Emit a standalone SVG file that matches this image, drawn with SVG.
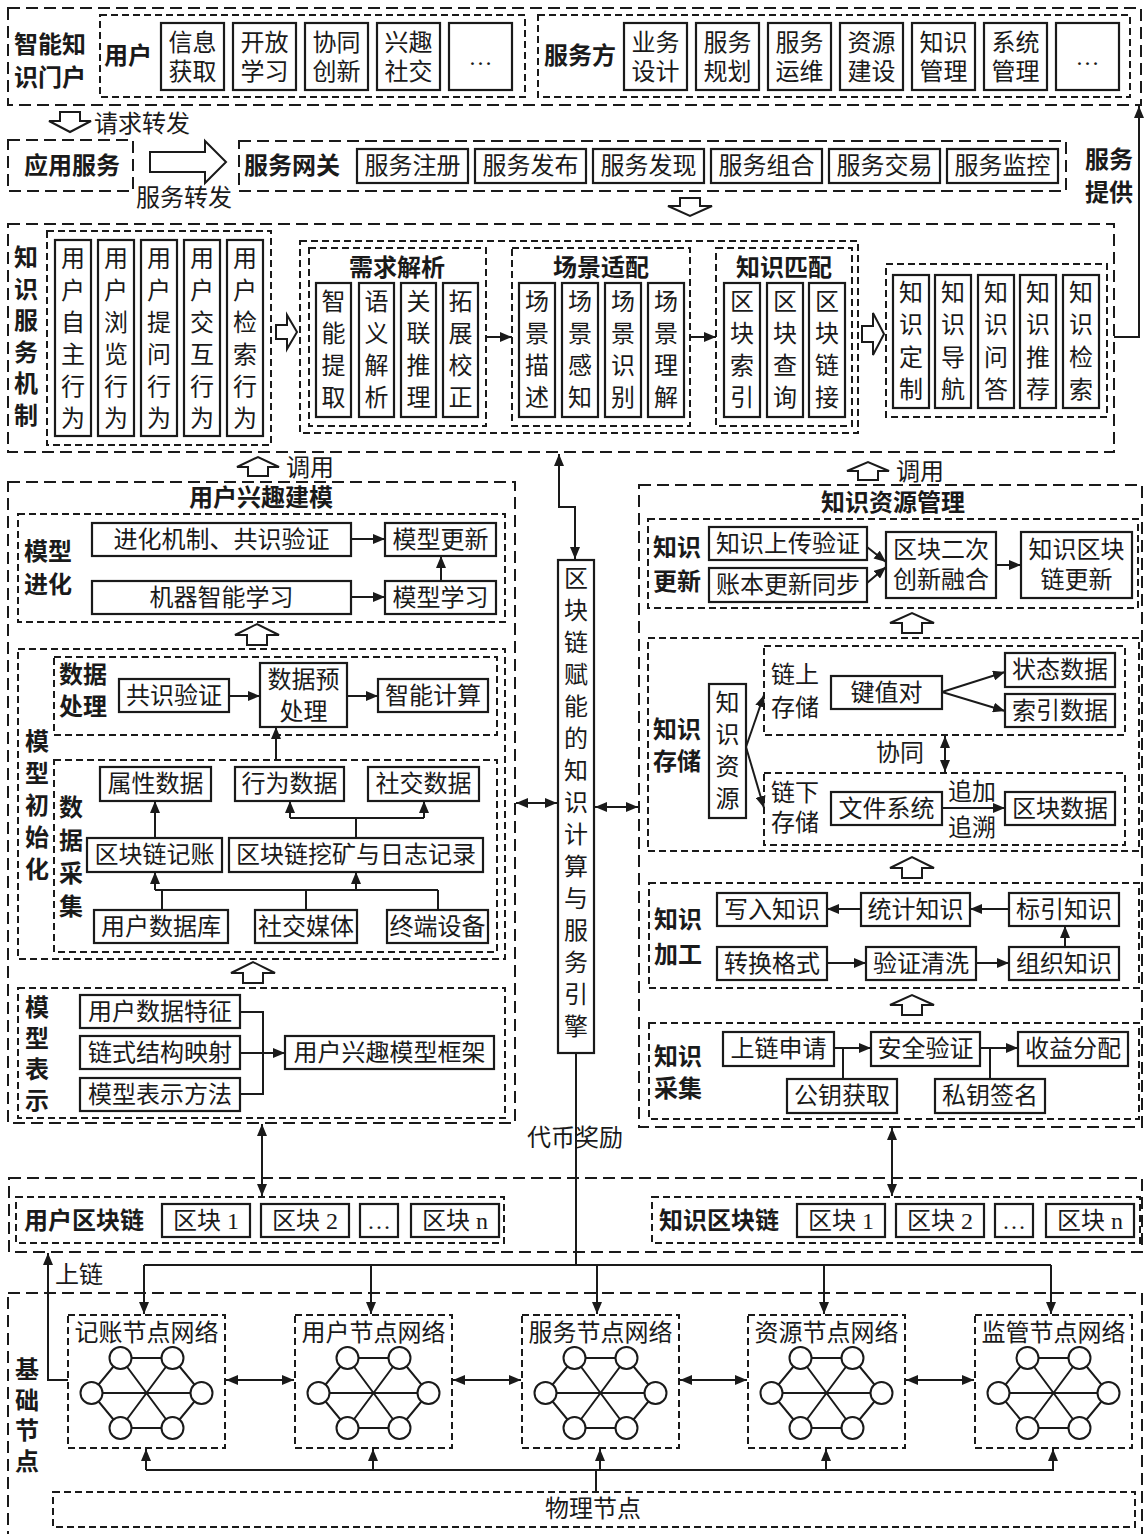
<svg xmlns="http://www.w3.org/2000/svg" width="1144" height="1534" viewBox="0 0 1144 1534">
<defs>
<style>
.b{fill:#fff;stroke:#1a1a1a;stroke-width:2.2}
.d1{fill:none;stroke:#1a1a1a;stroke-width:2;stroke-dasharray:12 6}
.d2{fill:none;stroke:#1a1a1a;stroke-width:2;stroke-dasharray:7 4}
.ln{fill:none;stroke:#1a1a1a;stroke-width:2}
.ar{marker-end:url(#ah)}
.da{marker-start:url(#ah);marker-end:url(#ah)}
.ha{fill:#fff;stroke:#1a1a1a;stroke-width:2}
.nd{fill:#fff;stroke:#1a1a1a;stroke-width:2}
text{font-family:"Liberation Serif","Noto Sans CJK SC",serif;font-size:24px;fill:#1a1a1a;text-anchor:middle;dominant-baseline:central}
.h{font-weight:bold}
</style>
<marker id="ah" viewBox="0 0 12 10" refX="12" refY="5" markerWidth="12" markerHeight="10" markerUnits="userSpaceOnUse" orient="auto-start-reverse"><path d="M0,0L12,5L0,10z" fill="#1a1a1a"/></marker>
<g id="net">
<path class="ln" d="M-26,-35H26M-26,35H26M-55,0H55M-26,-35L26,35M26,-35L-26,35M-26,-35L-55,0L-26,35M26,-35L55,0L26,35"/>
<circle class="nd" cx="-26" cy="-35" r="11"/><circle class="nd" cx="26" cy="-35" r="11"/>
<circle class="nd" cx="-55" cy="0" r="11"/><circle class="nd" cx="55" cy="0" r="11"/>
<circle class="nd" cx="-26" cy="35" r="11"/><circle class="nd" cx="26" cy="35" r="11"/>
</g>
</defs>
<rect x="0" y="0" width="1144" height="1534" fill="#fff"/>

<!-- Portal -->
<g id="portal"><rect class="d1" x="8" y="8" width="1133" height="97"/><text class="h" x="50" y="45">智能知</text><text class="h" x="50" y="78">识门户</text></g>
<g id="user-side"><rect class="d2" x="100" y="15" width="425" height="82"/><text class="h" x="128" y="56">用户</text></g>
<g id="u1"><rect class="b" x="161" y="23" width="63" height="67"/><text x="192.5" y="43">信息</text><text x="192.5" y="72">获取</text></g>
<g id="u2"><rect class="b" x="233" y="23" width="63" height="67"/><text x="264.5" y="43">开放</text><text x="264.5" y="72">学习</text></g>
<g id="u3"><rect class="b" x="305" y="23" width="63" height="67"/><text x="336.5" y="43">协同</text><text x="336.5" y="72">创新</text></g>
<g id="u4"><rect class="b" x="377" y="23" width="63" height="67"/><text x="408.5" y="43">兴趣</text><text x="408.5" y="72">社交</text></g>
<g id="u5"><rect class="b" x="449" y="23" width="63" height="67"/><text x="480.5" y="57">…</text></g>
<g id="server-side"><rect class="d2" x="538" y="15" width="592" height="82"/><text class="h" x="580" y="56">服务方</text></g>
<g id="s1"><rect class="b" x="624" y="23" width="63" height="67"/><text x="655.5" y="43">业务</text><text x="655.5" y="72">设计</text></g>
<g id="s2"><rect class="b" x="696" y="23" width="63" height="67"/><text x="727.5" y="43">服务</text><text x="727.5" y="72">规划</text></g>
<g id="s3"><rect class="b" x="768" y="23" width="63" height="67"/><text x="799.5" y="43">服务</text><text x="799.5" y="72">运维</text></g>
<g id="s4"><rect class="b" x="840" y="23" width="63" height="67"/><text x="871.5" y="43">资源</text><text x="871.5" y="72">建设</text></g>
<g id="s5"><rect class="b" x="912" y="23" width="63" height="67"/><text x="943.5" y="43">知识</text><text x="943.5" y="72">管理</text></g>
<g id="s6"><rect class="b" x="984" y="23" width="63" height="67"/><text x="1015.5" y="43">系统</text><text x="1015.5" y="72">管理</text></g>
<g id="s7"><rect class="b" x="1056" y="23" width="63" height="67"/><text x="1087.5" y="57">…</text></g>

<!-- Row 2 -->
<g id="app"><rect class="d1" x="8" y="140" width="125" height="51"/><text class="h" x="72" y="166">应用服务</text></g>
<g id="gateway"><rect class="d1" x="239" y="141" width="827" height="50"/><text class="h" x="292" y="166">服务网关</text></g>
<g id="g1"><rect class="b" x="357" y="149" width="111" height="34"/><text x="412.5" y="166">服务注册</text></g>
<g id="g2"><rect class="b" x="475" y="149" width="111" height="34"/><text x="530.5" y="166">服务发布</text></g>
<g id="g3"><rect class="b" x="593" y="149" width="111" height="34"/><text x="648.5" y="166">服务发现</text></g>
<g id="g4"><rect class="b" x="711" y="149" width="111" height="34"/><text x="766.5" y="166">服务组合</text></g>
<g id="g5"><rect class="b" x="829" y="149" width="111" height="34"/><text x="884.5" y="166">服务交易</text></g>
<g id="g6"><rect class="b" x="947" y="149" width="111" height="34"/><text x="1002.5" y="166">服务监控</text></g>

<!-- Knowledge service mechanism -->
<g id="ksm"><rect class="d1" x="8" y="224" width="1106" height="228"/>
<text class="h" x="26"><tspan x="26" y="258">知</tspan><tspan x="26" y="290">识</tspan><tspan x="26" y="321">服</tspan><tspan x="26" y="353">务</tspan><tspan x="26" y="384">机</tspan><tspan x="26" y="416">制</tspan></text></g>
<g id="behav"><rect class="d2" x="47" y="231" width="224" height="214"/></g>
<g id="b1"><rect class="b" x="55" y="240" width="36" height="196"/><text><tspan x="73" y="259">用</tspan><tspan x="73" y="291">户</tspan><tspan x="73" y="323">自</tspan><tspan x="73" y="355">主</tspan><tspan x="73" y="387">行</tspan><tspan x="73" y="419">为</tspan></text></g>
<g id="b2"><rect class="b" x="98" y="240" width="36" height="196"/><text><tspan x="116" y="259">用</tspan><tspan x="116" y="291">户</tspan><tspan x="116" y="323">浏</tspan><tspan x="116" y="355">览</tspan><tspan x="116" y="387">行</tspan><tspan x="116" y="419">为</tspan></text></g>
<g id="b3"><rect class="b" x="141" y="240" width="36" height="196"/><text><tspan x="159" y="259">用</tspan><tspan x="159" y="291">户</tspan><tspan x="159" y="323">提</tspan><tspan x="159" y="355">问</tspan><tspan x="159" y="387">行</tspan><tspan x="159" y="419">为</tspan></text></g>
<g id="b4"><rect class="b" x="184" y="240" width="36" height="196"/><text><tspan x="202" y="259">用</tspan><tspan x="202" y="291">户</tspan><tspan x="202" y="323">交</tspan><tspan x="202" y="355">互</tspan><tspan x="202" y="387">行</tspan><tspan x="202" y="419">为</tspan></text></g>
<g id="b5"><rect class="b" x="227" y="240" width="36" height="196"/><text><tspan x="245" y="259">用</tspan><tspan x="245" y="291">户</tspan><tspan x="245" y="323">检</tspan><tspan x="245" y="355">索</tspan><tspan x="245" y="387">行</tspan><tspan x="245" y="419">为</tspan></text></g>
<g id="analysis"><rect class="d2" x="300" y="241" width="558" height="192"/></g>
<g id="req"><rect class="d2" x="309" y="248" width="177" height="178"/><text class="h" x="397" y="268">需求解析</text></g>
<g id="r1"><rect class="b" x="316" y="283" width="35" height="134"/><text><tspan x="333.5" y="302">智</tspan><tspan x="333.5" y="334">能</tspan><tspan x="333.5" y="366">提</tspan><tspan x="333.5" y="398">取</tspan></text></g>
<g id="r2"><rect class="b" x="359" y="283" width="35" height="134"/><text><tspan x="376.5" y="302">语</tspan><tspan x="376.5" y="334">义</tspan><tspan x="376.5" y="366">解</tspan><tspan x="376.5" y="398">析</tspan></text></g>
<g id="r3"><rect class="b" x="401" y="283" width="35" height="134"/><text><tspan x="418.5" y="302">关</tspan><tspan x="418.5" y="334">联</tspan><tspan x="418.5" y="366">推</tspan><tspan x="418.5" y="398">理</tspan></text></g>
<g id="r4"><rect class="b" x="443" y="283" width="35" height="134"/><text><tspan x="460.5" y="302">拓</tspan><tspan x="460.5" y="334">展</tspan><tspan x="460.5" y="366">校</tspan><tspan x="460.5" y="398">正</tspan></text></g>
<g id="scene"><rect class="d2" x="512" y="248" width="178" height="178"/><text class="h" x="601" y="268">场景适配</text></g>
<g id="c1"><rect class="b" x="519" y="283" width="36" height="134"/><text><tspan x="537" y="302">场</tspan><tspan x="537" y="334">景</tspan><tspan x="537" y="366">描</tspan><tspan x="537" y="398">述</tspan></text></g>
<g id="c2"><rect class="b" x="562" y="283" width="36" height="134"/><text><tspan x="580" y="302">场</tspan><tspan x="580" y="334">景</tspan><tspan x="580" y="366">感</tspan><tspan x="580" y="398">知</tspan></text></g>
<g id="c3"><rect class="b" x="605" y="283" width="36" height="134"/><text><tspan x="623" y="302">场</tspan><tspan x="623" y="334">景</tspan><tspan x="623" y="366">识</tspan><tspan x="623" y="398">别</tspan></text></g>
<g id="c4"><rect class="b" x="648" y="283" width="36" height="134"/><text><tspan x="666" y="302">场</tspan><tspan x="666" y="334">景</tspan><tspan x="666" y="366">理</tspan><tspan x="666" y="398">解</tspan></text></g>
<g id="match"><rect class="d2" x="716" y="248" width="136" height="178"/><text class="h" x="784" y="268">知识匹配</text></g>
<g id="m1"><rect class="b" x="724" y="283" width="36" height="134"/><text><tspan x="742" y="302">区</tspan><tspan x="742" y="334">块</tspan><tspan x="742" y="366">索</tspan><tspan x="742" y="398">引</tspan></text></g>
<g id="m2"><rect class="b" x="767" y="283" width="36" height="134"/><text><tspan x="785" y="302">区</tspan><tspan x="785" y="334">块</tspan><tspan x="785" y="366">查</tspan><tspan x="785" y="398">询</tspan></text></g>
<g id="m3"><rect class="b" x="809" y="283" width="36" height="134"/><text><tspan x="827" y="302">区</tspan><tspan x="827" y="334">块</tspan><tspan x="827" y="366">链</tspan><tspan x="827" y="398">接</tspan></text></g>
<g id="ksvc"><rect class="d2" x="886" y="264" width="221" height="153"/></g>
<g id="k1"><rect class="b" x="893" y="275" width="36" height="133"/><text><tspan x="911" y="293">知</tspan><tspan x="911" y="325">识</tspan><tspan x="911" y="358">定</tspan><tspan x="911" y="390">制</tspan></text></g>
<g id="k2"><rect class="b" x="935" y="275" width="36" height="133"/><text><tspan x="953" y="293">知</tspan><tspan x="953" y="325">识</tspan><tspan x="953" y="358">导</tspan><tspan x="953" y="390">航</tspan></text></g>
<g id="k3"><rect class="b" x="978" y="275" width="36" height="133"/><text><tspan x="996" y="293">知</tspan><tspan x="996" y="325">识</tspan><tspan x="996" y="358">问</tspan><tspan x="996" y="390">答</tspan></text></g>
<g id="k4"><rect class="b" x="1020" y="275" width="36" height="133"/><text><tspan x="1038" y="293">知</tspan><tspan x="1038" y="325">识</tspan><tspan x="1038" y="358">推</tspan><tspan x="1038" y="390">荐</tspan></text></g>
<g id="k5"><rect class="b" x="1063" y="275" width="36" height="133"/><text><tspan x="1081" y="293">知</tspan><tspan x="1081" y="325">识</tspan><tspan x="1081" y="358">检</tspan><tspan x="1081" y="390">索</tspan></text></g>

<!-- Engine -->
<g id="engine"><rect class="b" x="558" y="560" width="36" height="493"/>
<text><tspan x="576" y="579">区</tspan><tspan x="576" y="611">块</tspan><tspan x="576" y="643">链</tspan><tspan x="576" y="675">赋</tspan><tspan x="576" y="707">能</tspan><tspan x="576" y="739">的</tspan><tspan x="576" y="771">知</tspan><tspan x="576" y="803">识</tspan><tspan x="576" y="835">计</tspan><tspan x="576" y="867">算</tspan><tspan x="576" y="899">与</tspan><tspan x="576" y="931">服</tspan><tspan x="576" y="963">务</tspan><tspan x="576" y="995">引</tspan><tspan x="576" y="1027">擎</tspan></text></g>

<!-- User interest modeling -->
<g id="uim"><rect class="d1" x="8" y="482" width="507" height="641"/><text class="h" x="261" y="498">用户兴趣建模</text></g>
<g id="evo"><rect class="d2" x="18" y="514" width="487" height="108"/><text class="h" x="48" y="552">模型</text><text class="h" x="48" y="585">进化</text></g>
<g id="e1"><rect class="b" x="92" y="523" width="259" height="33"/><text x="221.5" y="539.5">进化机制、共识验证</text></g>
<g id="e2"><rect class="b" x="385" y="523" width="111" height="33"/><text x="440.5" y="539.5">模型更新</text></g>
<g id="e3"><rect class="b" x="92" y="581" width="259" height="33"/><text x="221.5" y="597.5">机器智能学习</text></g>
<g id="e4"><rect class="b" x="385" y="581" width="111" height="33"/><text x="440.5" y="597.5">模型学习</text></g>
<g id="init"><rect class="d2" x="18" y="649" width="487" height="310"/><text class="h"><tspan x="37" y="742">模</tspan><tspan x="37" y="774">型</tspan><tspan x="37" y="806">初</tspan><tspan x="37" y="838">始</tspan><tspan x="37" y="870">化</tspan></text></g>
<g id="proc"><rect class="d2" x="54" y="657" width="443" height="78"/><text class="h" x="83" y="675">数据</text><text class="h" x="83" y="707">处理</text></g>
<g id="p1"><rect class="b" x="119" y="679" width="110" height="33"/><text x="174" y="695.5">共识验证</text></g>
<g id="p2"><rect class="b" x="260" y="663" width="87" height="64"/><text x="303.5" y="680">数据预</text><text x="303.5" y="712">处理</text></g>
<g id="p3"><rect class="b" x="378" y="679" width="110" height="33"/><text x="433" y="695.5">智能计算</text></g>
<g id="coll"><rect class="d2" x="54" y="760" width="443" height="192"/><text class="h"><tspan x="71" y="808">数</tspan><tspan x="71" y="841">据</tspan><tspan x="71" y="874">采</tspan><tspan x="71" y="907">集</tspan></text></g>
<g id="a1"><rect class="b" x="100" y="767" width="111" height="34"/><text x="155.5" y="784">属性数据</text></g>
<g id="a2"><rect class="b" x="235" y="767" width="109" height="34"/><text x="289.5" y="784">行为数据</text></g>
<g id="a3"><rect class="b" x="368" y="767" width="111" height="34"/><text x="423.5" y="784">社交数据</text></g>
<g id="a4"><rect class="b" x="87" y="838" width="135" height="34"/><text x="154.5" y="855">区块链记账</text></g>
<g id="a5"><rect class="b" x="229" y="838" width="254" height="34"/><text x="356" y="855">区块链挖矿与日志记录</text></g>
<g id="a6"><rect class="b" x="94" y="910" width="134" height="33"/><text x="161" y="926.5">用户数据库</text></g>
<g id="a7"><rect class="b" x="255" y="910" width="102" height="33"/><text x="306" y="926.5">社交媒体</text></g>
<g id="a8"><rect class="b" x="387" y="910" width="101" height="33"/><text x="437.5" y="926.5">终端设备</text></g>
<g id="repr"><rect class="d2" x="18" y="988" width="487" height="130"/><text class="h"><tspan x="37" y="1008">模</tspan><tspan x="37" y="1039">型</tspan><tspan x="37" y="1070">表</tspan><tspan x="37" y="1101">示</tspan></text></g>
<g id="f1"><rect class="b" x="80" y="995" width="160" height="33"/><text x="160" y="1011.5">用户数据特征</text></g>
<g id="f2"><rect class="b" x="80" y="1036" width="160" height="33"/><text x="160" y="1052.5">链式结构映射</text></g>
<g id="f3"><rect class="b" x="80" y="1078" width="160" height="33"/><text x="160" y="1094.5">模型表示方法</text></g>
<g id="f4"><rect class="b" x="285" y="1036" width="209" height="33"/><text x="389.5" y="1052.5">用户兴趣模型框架</text></g>

<!-- Knowledge resource management -->
<g id="krm"><rect class="d1" x="639" y="485" width="503" height="642"/><text class="h" x="893" y="503">知识资源管理</text></g>
<g id="kupd"><rect class="d2" x="648" y="519" width="490" height="89"/><text class="h" x="677" y="548">知识</text><text class="h" x="677" y="582">更新</text></g>
<g id="q1"><rect class="b" x="709" y="527" width="158" height="33"/><text x="788" y="543.5">知识上传验证</text></g>
<g id="q2"><rect class="b" x="709" y="568" width="158" height="34"/><text x="788" y="585">账本更新同步</text></g>
<g id="q3"><rect class="b" x="886" y="532" width="110" height="66"/><text x="941" y="550">区块二次</text><text x="941" y="580">创新融合</text></g>
<g id="q4"><rect class="b" x="1021" y="532" width="111" height="66"/><text x="1076.5" y="550">知识区块</text><text x="1076.5" y="580">链更新</text></g>
<g id="kstore"><rect class="d2" x="648" y="638" width="491" height="213"/><text class="h" x="677" y="730">知识</text><text class="h" x="677" y="762">存储</text></g>
<g id="kres"><rect class="b" x="709" y="684" width="37" height="134"/><text><tspan x="727.5" y="703">知</tspan><tspan x="727.5" y="735">识</tspan><tspan x="727.5" y="767">资</tspan><tspan x="727.5" y="799">源</tspan></text></g>
<g id="onchain"><rect class="d2" x="764" y="646" width="361" height="89"/><text x="795" y="675">链上</text><text x="795" y="708">存储</text></g>
<g id="kv"><rect class="b" x="831" y="676" width="111" height="33"/><text x="886.5" y="692.5">键值对</text></g>
<g id="st"><rect class="b" x="1005" y="653" width="110" height="34"/><text x="1060" y="670">状态数据</text></g>
<g id="ix"><rect class="b" x="1005" y="694" width="110" height="33"/><text x="1060" y="710.5">索引数据</text></g>
<g id="offchain"><rect class="d2" x="764" y="773" width="361" height="72"/><text x="795" y="793">链下</text><text x="795" y="823">存储</text></g>
<g id="fs"><rect class="b" x="831" y="792" width="111" height="33"/><text x="886.5" y="808.5">文件系统</text></g>
<g id="bd"><rect class="b" x="1005" y="792" width="110" height="33"/><text x="1060" y="808.5">区块数据</text></g>
<g id="kproc"><rect class="d2" x="649" y="883" width="490" height="105"/><text class="h" x="678" y="920">知识</text><text class="h" x="678" y="955">加工</text></g>
<g id="w1"><rect class="b" x="717" y="893" width="110" height="33"/><text x="772" y="909.5">写入知识</text></g>
<g id="w2"><rect class="b" x="861" y="893" width="109" height="33"/><text x="915.5" y="909.5">统计知识</text></g>
<g id="w3"><rect class="b" x="1009" y="893" width="110" height="33"/><text x="1064" y="909.5">标引知识</text></g>
<g id="w4"><rect class="b" x="717" y="947" width="110" height="33"/><text x="772" y="963.5">转换格式</text></g>
<g id="w5"><rect class="b" x="866" y="947" width="110" height="33"/><text x="921" y="963.5">验证清洗</text></g>
<g id="w6"><rect class="b" x="1009" y="947" width="110" height="33"/><text x="1064" y="963.5">组织知识</text></g>
<g id="kcol"><rect class="d2" x="649" y="1023" width="490" height="96"/><text class="h" x="678" y="1057">知识</text><text class="h" x="678" y="1089">采集</text></g>
<g id="x1"><rect class="b" x="723" y="1032" width="111" height="34"/><text x="778.5" y="1049">上链申请</text></g>
<g id="x2"><rect class="b" x="871" y="1032" width="109" height="34"/><text x="925.5" y="1049">安全验证</text></g>
<g id="x3"><rect class="b" x="1018" y="1032" width="110" height="34"/><text x="1073" y="1049">收益分配</text></g>
<g id="x4"><rect class="b" x="787" y="1079" width="110" height="34"/><text x="842" y="1096">公钥获取</text></g>
<g id="x5"><rect class="b" x="935" y="1079" width="110" height="34"/><text x="990" y="1096">私钥签名</text></g>

<!-- Blockchains -->
<g id="chains"><rect class="d1" x="9" y="1178" width="1133" height="74"/></g>
<g id="uchain"><rect class="d2" x="16" y="1197" width="488" height="46"/><text class="h" x="84" y="1221">用户区块链</text></g>
<g id="ub1"><rect class="b" x="162" y="1204" width="88" height="33"/><text x="206" y="1220.5">区块 1</text></g>
<g id="ub2"><rect class="b" x="261" y="1204" width="88" height="33"/><text x="305" y="1220.5">区块 2</text></g>
<g id="ub3"><rect class="b" x="360" y="1204" width="38" height="33"/><text x="379" y="1220.5">…</text></g>
<g id="ub4"><rect class="b" x="411" y="1204" width="88" height="33"/><text x="455" y="1220.5">区块 n</text></g>
<g id="kchain"><rect class="d2" x="652" y="1197" width="488" height="46"/><text class="h" x="719" y="1221">知识区块链</text></g>
<g id="kb1"><rect class="b" x="797" y="1204" width="88" height="33"/><text x="841" y="1220.5">区块 1</text></g>
<g id="kb2"><rect class="b" x="896" y="1204" width="88" height="33"/><text x="940" y="1220.5">区块 2</text></g>
<g id="kb3"><rect class="b" x="995" y="1204" width="38" height="33"/><text x="1014" y="1220.5">…</text></g>
<g id="kb4"><rect class="b" x="1046" y="1204" width="88" height="33"/><text x="1090" y="1220.5">区块 n</text></g>

<!-- Foundation nodes -->
<g id="base"><rect class="d1" x="8" y="1293" width="1134" height="260"/><text class="h"><tspan x="27" y="1370">基</tspan><tspan x="27" y="1401">础</tspan><tspan x="27" y="1431">节</tspan><tspan x="27" y="1462">点</tspan></text></g>
<g id="n1"><rect class="d2" x="68" y="1315" width="157" height="133"/><text x="146.5" y="1333">记账节点网络</text><use href="#net" x="146.5" y="1393"/></g>
<g id="n2"><rect class="d2" x="295" y="1315" width="157" height="133"/><text x="373.5" y="1333">用户节点网络</text><use href="#net" x="373.5" y="1393"/></g>
<g id="n3"><rect class="d2" x="522" y="1315" width="157" height="133"/><text x="600.5" y="1333">服务节点网络</text><use href="#net" x="600.5" y="1393"/></g>
<g id="n4"><rect class="d2" x="748" y="1315" width="157" height="133"/><text x="826.5" y="1333">资源节点网络</text><use href="#net" x="826.5" y="1393"/></g>
<g id="n5"><rect class="d2" x="975" y="1315" width="157" height="133"/><text x="1053.5" y="1333">监管节点网络</text><use href="#net" x="1053.5" y="1393"/></g>
<g id="phys"><rect class="d2" x="53" y="1492" width="1082" height="35"/><text x="593" y="1509">物理节点</text></g>

<!-- Connectors -->
<g id="connectors">
<path class="ha" d="M60,112H80V121H91L70,132L49,121H60Z"/>
<text x="142" y="124">请求转发</text>
<path class="ha" d="M150,152H205V141L226,162L205,183V172H150Z"/>
<text x="184" y="198">服务转发</text>
<path class="ha" d="M680,198H700V206H712L690,216L668,206H680Z"/>
<polyline class="ln ar" points="1114,337 1139,337 1139,106"/>
<text class="h" x="1109" y="160">服务</text><text class="h" x="1109" y="193">提供</text>
<path class="ha" d="M276,325H287V315L297,332L287,349V339H276Z"/>
<line class="ln ar" x1="486" y1="337" x2="512" y2="337"/>
<line class="ln ar" x1="690" y1="337" x2="716" y2="337"/>
<path class="ha" d="M862,326H873V313L884,334L873,355V342H862Z"/>
<path class="ha" d="M248,476V467H237L258,457L279,467H268V476Z"/>
<text x="310" y="468">调用</text>
<path class="ha" d="M858,480V471H847L868,462L889,471H878V480Z"/>
<text x="920" y="472">调用</text>
<polyline class="ln da" points="559,454 559,507 575,507 575,559"/>
<line class="ln ar" x1="351" y1="539" x2="385" y2="539"/>
<line class="ln ar" x1="351" y1="597" x2="385" y2="597"/>
<line class="ln ar" x1="441" y1="581" x2="441" y2="556"/>
<path class="ha" d="M247,645V635H235L257,624L279,635H267V645Z"/>
<line class="ln ar" x1="229" y1="696" x2="260" y2="696"/>
<line class="ln ar" x1="347" y1="696" x2="378" y2="696"/>
<line class="ln ar" x1="276" y1="760" x2="276" y2="727"/>
<line class="ln ar" x1="155" y1="838" x2="155" y2="801"/>
<path class="ln" d="M356,838V818M290,818H424"/>
<line class="ln ar" x1="290" y1="818" x2="290" y2="801"/>
<line class="ln ar" x1="424" y1="818" x2="424" y2="801"/>
<path class="ln" d="M155,890H438M162,910V890M306,910V890M438,910V890"/>
<line class="ln ar" x1="155" y1="890" x2="155" y2="872"/>
<line class="ln ar" x1="356" y1="890" x2="356" y2="872"/>
<path class="ha" d="M243,983V973H231L253,962L275,973H263V983Z"/>
<polyline class="ln" points="240,1012 263,1012 263,1094 240,1094"/>
<line class="ln ar" x1="240" y1="1053" x2="285" y2="1053"/>
<line class="ln da" x1="516" y1="803" x2="557" y2="803"/>
<line class="ln da" x1="595" y1="807" x2="638" y2="807"/>
<line class="ln ar" x1="867" y1="547" x2="886" y2="562"/>
<line class="ln ar" x1="867" y1="583" x2="886" y2="567"/>
<line class="ln ar" x1="996" y1="565" x2="1021" y2="565"/>
<path class="ha" d="M902,633V623H890L912,613L934,623H922V633Z"/>
<line class="ln ar" x1="746" y1="747" x2="764" y2="695"/>
<line class="ln ar" x1="746" y1="747" x2="764" y2="808"/>
<line class="ln ar" x1="942" y1="692" x2="1005" y2="672"/>
<line class="ln ar" x1="942" y1="692" x2="1005" y2="711"/>
<text x="900" y="753">协同</text>
<line class="ln da" x1="945" y1="736" x2="945" y2="772"/>
<line class="ln ar" x1="942" y1="808" x2="1005" y2="808"/>
<text x="972" y="792">追加</text>
<text x="972" y="828">追溯</text>
<path class="ha" d="M902,878V868H890L912,857L934,868H922V878Z"/>
<line class="ln ar" x1="861" y1="909" x2="827" y2="909"/>
<line class="ln ar" x1="1009" y1="909" x2="970" y2="909"/>
<line class="ln ar" x1="827" y1="963" x2="866" y2="963"/>
<line class="ln ar" x1="976" y1="963" x2="1009" y2="963"/>
<line class="ln ar" x1="1065" y1="947" x2="1065" y2="926"/>
<path class="ha" d="M902,1015V1005H890L912,995L934,1005H922V1015Z"/>
<line class="ln ar" x1="834" y1="1048" x2="871" y2="1048"/>
<line class="ln ar" x1="980" y1="1048" x2="1018" y2="1048"/>
<path class="ln" d="M843,1048V1079M990,1048V1079"/>
<line class="ln da" x1="262" y1="1124" x2="262" y2="1196"/>
<line class="ln da" x1="892" y1="1128" x2="892" y2="1196"/>
<line class="ln" x1="576" y1="1053" x2="576" y2="1265"/>
<text x="575" y="1138">代币奖励</text>
<line class="ln" x1="144" y1="1265" x2="1051" y2="1265"/>
<line class="ln ar" x1="144" y1="1265" x2="144" y2="1314"/>
<line class="ln ar" x1="371" y1="1265" x2="371" y2="1314"/>
<line class="ln ar" x1="597" y1="1265" x2="597" y2="1314"/>
<line class="ln ar" x1="824" y1="1265" x2="824" y2="1314"/>
<line class="ln ar" x1="1051" y1="1265" x2="1051" y2="1314"/>
<polyline class="ln ar" points="68,1380 48,1380 48,1253"/>
<text x="79" y="1275">上链</text>
<line class="ln da" x1="226" y1="1380" x2="294" y2="1380"/>
<line class="ln da" x1="453" y1="1380" x2="521" y2="1380"/>
<line class="ln da" x1="680" y1="1380" x2="747" y2="1380"/>
<line class="ln da" x1="906" y1="1380" x2="974" y2="1380"/>
<line class="ln" x1="146" y1="1470" x2="1054" y2="1470"/>
<line class="ln" x1="596" y1="1492" x2="596" y2="1470"/>
<line class="ln ar" x1="146" y1="1470" x2="146" y2="1449"/>
<line class="ln ar" x1="373" y1="1470" x2="373" y2="1449"/>
<line class="ln ar" x1="600" y1="1470" x2="600" y2="1449"/>
<line class="ln ar" x1="826" y1="1470" x2="826" y2="1449"/>
<line class="ln ar" x1="1053" y1="1470" x2="1053" y2="1449"/>
</g>
</svg>
